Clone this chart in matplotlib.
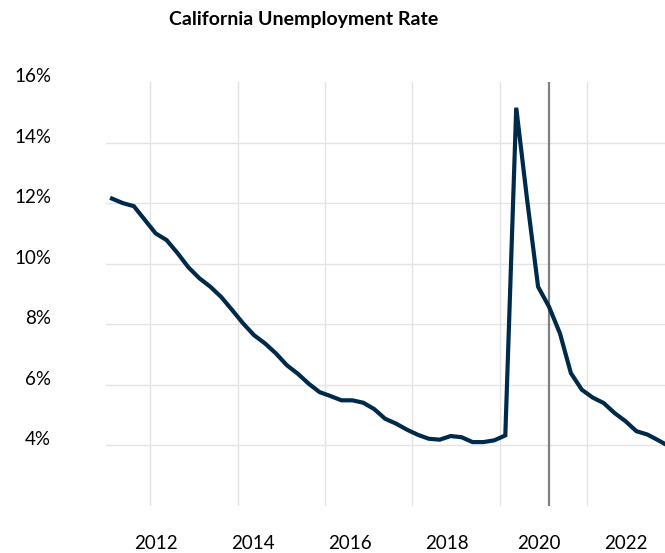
import numpy as np
import matplotlib.pyplot as plt

# quarterly California unemployment rate, 2011 Q1 onward (%)
start_year = 2011
rate = [12.15, 12.0, 11.9, 11.45, 11.0, 10.78, 10.35, 9.88, 9.52, 9.24,
        8.9, 8.47, 8.03, 7.64, 7.37, 7.04, 6.65, 6.37, 6.04, 5.76,
        5.63, 5.49, 5.49, 5.41, 5.2, 4.88, 4.72, 4.52, 4.35, 4.22,
        4.19, 4.31, 4.27, 4.11, 4.11, 4.17, 4.33, 15.15, 12.1, 9.24,
        8.58, 7.7, 6.39, 5.84, 5.58, 5.4, 5.07, 4.8, 4.47, 4.36,
        4.17, 3.97]
year_labels = ['2012', '2014', '2016', '2018', '2020', '2022']
y_ticks = [4, 6, 8, 10, 12, 14, 16]

x = start_year + np.arange(len(rate)) / 4

fig = plt.figure(figsize=(6.65, 5.53), dpi=100)
ax = fig.add_axes([0.1594, 0.085, 0.8406, 0.7667])
fam = ['Lato', 'DejaVu Sans']

# light grid
for g in y_ticks[:-1]:
    ax.axhline(g, color='#e4e4e4', lw=1, zorder=0)
for g in np.arange(2011.875, 2022, 2):
    ax.axvline(g, color='#e4e4e4', lw=1, zorder=0)
ax.axvline(2021.0, color='#808080', lw=1.6, zorder=1)

ax.plot(x, rate, color='#002a4a', lw=3, solid_joinstyle='miter', zorder=3)

ax.set_xlim(2010.863, 2023.654)
ax.set_ylim(2, 16)

# labels sit just above their gridlines
ax.set_yticks(y_ticks)
ax.set_yticklabels([f'{v}%' for v in y_ticks], fontsize=13.5, family=fam, va='baseline')
ax.tick_params(axis='y', length=0, pad=39.5)

ax.set_xticks([2012.01, 2014.23, 2016.45, 2018.67, 2020.77, 2022.76])
ax.set_xticklabels(year_labels, fontsize=13.5, family=fam)
ax.tick_params(axis='x', length=0, pad=21)

for s in ax.spines.values():
    s.set_visible(False)

fig.text(304 / 665, 1 - 20 / 553, 'California Unemployment Rate', ha='center', va='center',
         fontsize=14, fontweight='bold', family=fam)

fig.savefig('out.png', dpi=100)
